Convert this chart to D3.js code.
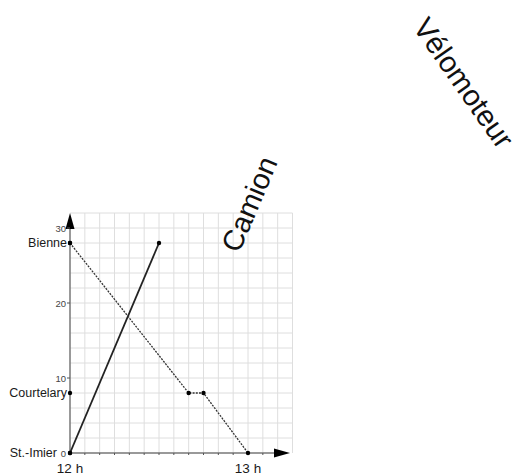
<!DOCTYPE html>
<html>
<head>
<meta charset="utf-8">
<script src="https://cdn.jsdelivr.net/npm/d3@7"></script>
<style>
	body { margin: 0; background: #fff; }
	text { font-family: "Liberation Sans", Arial, sans-serif; }
</style>
</head>
<body>
<script>
"use strict";

//data: time in minutes after 12 h, distance in km from St.-Imier
const solidTimes = [0, 30];
const solidKm = [0, 28];
const dottedTimes = [0, 40, 45, 60];
const dottedKm = [28, 8, 8, 0];
const placeNames = ["St.-Imier", "Courtelary", "Bienne"];
const placeKm = [0, 8, 28];
const yTicks = [0, 10, 20, 30];
const xLabels = ["12 h", "13 h"];
const xLabelTimes = [0, 60];
const seriesNames = ["Camion", "Vélomoteur"];

const width = 521, height = 475;
const x = d3.scaleLinear().domain([0, 75]).range([70, 292.5]);
const y = d3.scaleLinear().domain([0, 32]).range([453, 213]);

const svg = d3.select("body").append("svg")
	.attr("width", width)
	.attr("height", height);

//grid
const grid = svg.append("g").attr("stroke", "#dedede").attr("stroke-width", 1);
grid.selectAll("line.v").data(d3.range(5, 76, 5)).join("line")
	.attr("class", "v")
	.attr("x1", d => x(d)).attr("x2", d => x(d))
	.attr("y1", y(0)).attr("y2", y(32));
grid.selectAll("line.h").data(d3.range(2, 33, 2)).join("line")
	.attr("class", "h")
	.attr("y1", d => y(d)).attr("y2", d => y(d))
	.attr("x1", x(0)).attr("x2", x(75));

//axes
const axes = svg.append("g").attr("stroke", "#777").attr("stroke-width", 1.5);
axes.append("line").attr("x1", x(0)).attr("x2", 278).attr("y1", y(0)).attr("y2", y(0));
axes.append("line").attr("x1", x(0)).attr("x2", x(0)).attr("y1", y(0)).attr("y2", 226);
svg.append("path").attr("fill", "#000")
	.attr("d", "M" + 290 + "," + y(0) + " L" + 274 + "," + (y(0) - 4.5) + " L" + 274 + "," + (y(0) + 4.5) + "Z");
svg.append("path").attr("fill", "#000")
	.attr("d", "M" + x(0) + "," + 213 + " L" + (x(0) - 4.5) + "," + 229 + " L" + (x(0) + 4.5) + "," + 229 + "Z");

//small ticks
svg.append("g").attr("stroke", "#555").attr("stroke-width", 1)
	.selectAll("line").data(d3.range(5, 70, 5)).join("line")
	.attr("x1", d => x(d)).attr("x2", d => x(d))
	.attr("y1", y(0)).attr("y2", y(0) + 2);
svg.append("g").attr("stroke", "#555").attr("stroke-width", 1)
	.selectAll("line").data(yTicks.slice(1)).join("line")
	.attr("y1", d => y(d)).attr("y2", d => y(d))
	.attr("x1", x(0) - 3).attr("x2", x(0));

//tick numbers
svg.append("g").selectAll("text").data(yTicks).join("text")
	.attr("x", x(0) - 4)
	.attr("y", d => y(d) + 3.5)
	.attr("text-anchor", "end")
	.attr("font-size", 9.5)
	.attr("fill", "#444")
	.text(d => d);

//place names
svg.append("g").selectAll("text").data(placeNames).join("text")
	.attr("x", (d, i) => placeKm[i] === 0 ? x(0) - 13 : x(0) - 3)
	.attr("y", (d, i) => y(placeKm[i]) + 4)
	.attr("text-anchor", "end")
	.attr("font-size", 12.5)
	.attr("fill", "#1a1a1a")
	.text(d => d);

//hour labels
svg.append("g").selectAll("text").data(xLabels).join("text")
	.attr("x", (d, i) => x(xLabelTimes[i]))
	.attr("y", 473)
	.attr("text-anchor", "middle")
	.attr("font-size", 13.5)
	.attr("fill", "#1a1a1a")
	.text(d => d);

//lines
const line = d3.line().x(d => x(d[0])).y(d => y(d[1]));
const solid = solidTimes.map((t, i) => [t, solidKm[i]]);
const dotted = dottedTimes.map((t, i) => [t, dottedKm[i]]);
svg.append("path").attr("d", line(solid))
	.attr("fill", "none").attr("stroke", "#222").attr("stroke-width", 1.8);
svg.append("path").attr("d", line(dotted))
	.attr("fill", "none").attr("stroke", "#333").attr("stroke-width", 1.3)
	.attr("stroke-dasharray", "2,1.2");

//points
const pts = solid.concat(dotted).concat(placeKm.map(k => [0, k]));
svg.append("g").selectAll("circle").data(pts).join("circle")
	.attr("cx", d => x(d[0])).attr("cy", d => y(d[1]))
	.attr("r", 2.2).attr("fill", "#000");

//rotated series names
svg.append("text")
	.attr("transform", "translate(239,254) rotate(-67)")
	.attr("font-size", 29)
	.attr("fill", "#111")
	.text(seriesNames[0]);
svg.append("text")
	.attr("transform", "translate(412,27) rotate(55)")
	.attr("font-size", 29.5)
	.attr("fill", "#111")
	.text(seriesNames[1]);
</script>
</body>
</html>
